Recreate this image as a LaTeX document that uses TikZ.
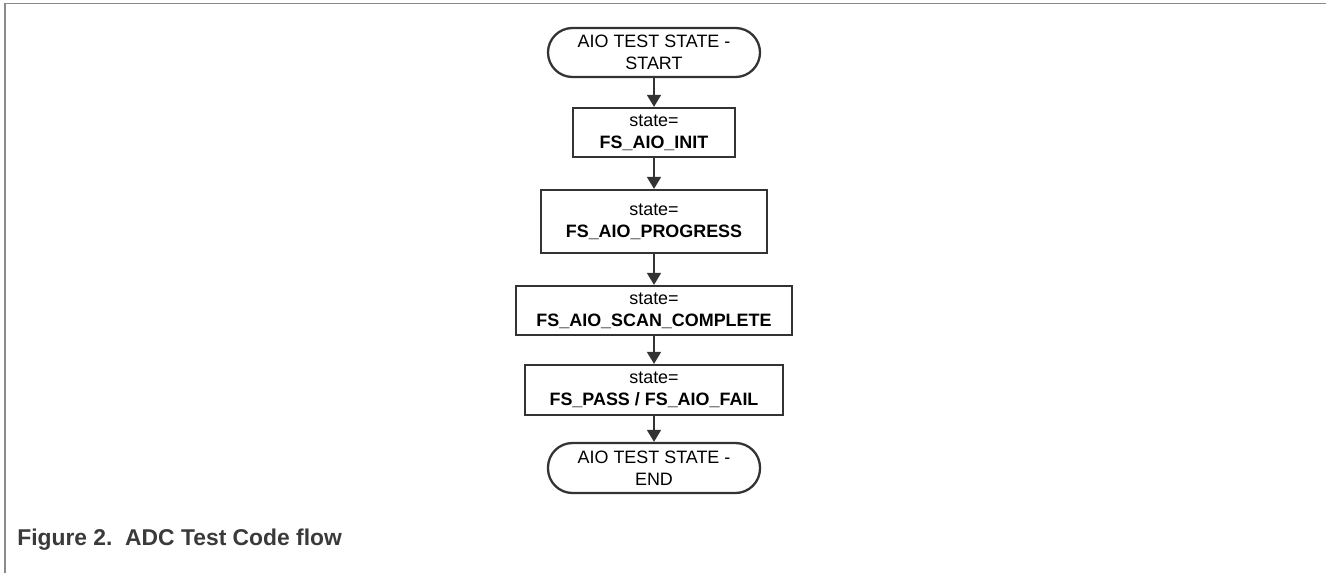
\documentclass[tikz,border=0pt]{standalone}
\usepackage{fontspec}
\setmainfont{Liberation Sans}
\usetikzlibrary{arrows.meta}
\definecolor{framegray}{HTML}{8A8A8A}
\definecolor{inkgray}{HTML}{333333}
\definecolor{capgray}{HTML}{3A3A3A}
\begin{document}
\begin{tikzpicture}[
  statebox/.style={draw=inkgray,line width=1.3pt,text=black,inner sep=0pt,
    align=center,minimum height=0.98cm,font=\fontsize{10.2}{12.3}\selectfont},
  terminal/.style={statebox,rounded corners=0.49cm,minimum width=4.24cm},
  flow/.style={draw=inkgray,line width=0.9pt,-{Triangle[width=0.28cm,length=0.24cm]}}
]
\useasboundingbox (0,0) rectangle (26.52,-11.46);
% page frame
\draw[framegray,line width=1.1pt] (0.1,-11.46) -- (0.1,-0.07) -- (26.52,-0.07);
\node[terminal] (start) at (13.08,-1.05) {AIO TEST STATE -\\START};
\node[statebox,minimum width=3.24cm] (init) at (13.08,-2.65)
  {state=\\\textbf{FS\_AIO\_INIT}};
\node[statebox,minimum width=4.52cm,minimum height=1.26cm] (progress) at (13.08,-4.43)
  {state=\\\textbf{FS\_AIO\_PROGRESS}};
\node[statebox,minimum width=5.52cm] (scan) at (13.08,-6.21)
  {state=\\\textbf{FS\_AIO\_SCAN\_COMPLETE}};
\node[statebox,minimum width=5.16cm,minimum height=1.0cm] (result) at (13.08,-7.80)
  {state=\\\textbf{FS\_PASS / FS\_AIO\_FAIL}};
\node[terminal,minimum height=1.0cm] (stop) at (13.08,-9.36) {AIO TEST STATE -\\END};
\draw[flow] (start) -- (init);
\draw[flow] (init) -- (progress);
\draw[flow] (progress) -- (scan);
\draw[flow] (scan) -- (result);
\draw[flow] (result) -- (stop);
% caption
\node[anchor=base west,inner sep=0pt,text=capgray,font=\fontsize{13}{15}\selectfont\bfseries]
  (caption) at (0.34,-10.9) {Figure 2.\ \ ADC Test Code flow};
\end{tikzpicture}
\end{document}
